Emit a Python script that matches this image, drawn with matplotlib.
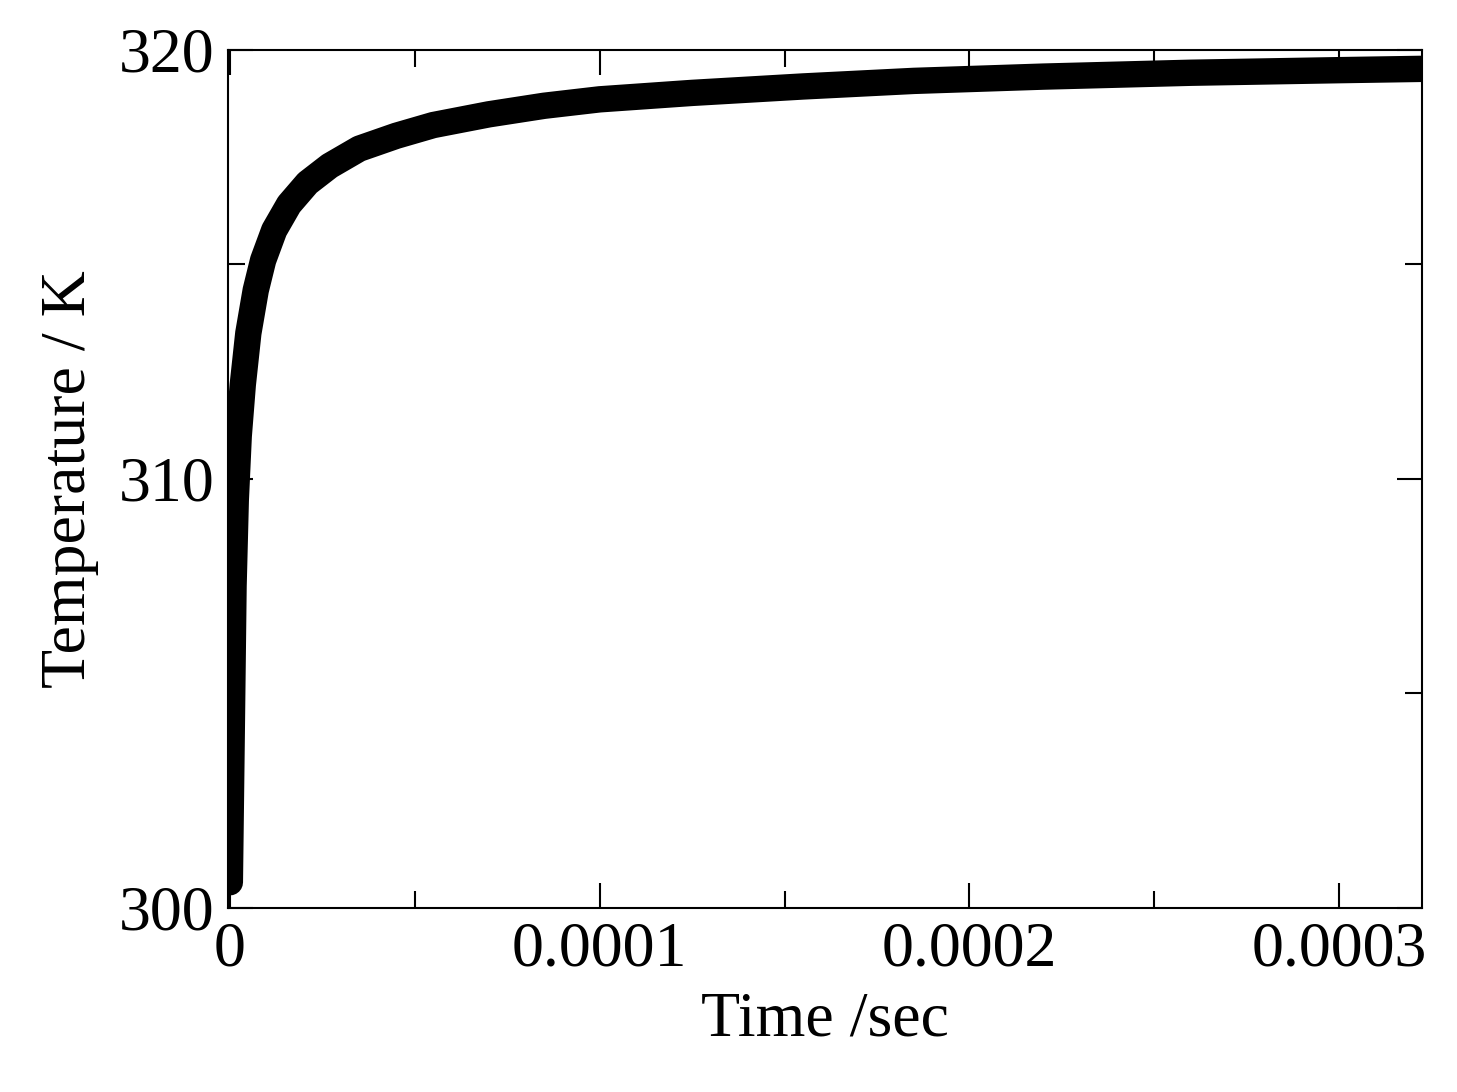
import matplotlib
matplotlib.use("Agg")
import matplotlib.pyplot as plt
from matplotlib.ticker import MultipleLocator, FixedLocator

time_s = [0, 0.5e-6, 1e-6, 1.6e-6, 2.4e-6, 3.5e-6, 5e-6, 7e-6, 9e-6, 1.2e-5, 1.6e-5,
          2.1e-5, 2.7e-5, 3.5e-5, 4.5e-5, 5.5e-5, 7e-5, 8.5e-5, 1.0e-4, 1.25e-4,
          1.55e-4, 1.85e-4, 2.2e-4, 2.6e-4, 3.0e-4, 3.22e-4]
temp_K = [300.6, 304.0, 307.5, 309.5, 311.0, 312.2, 313.4, 314.4, 315.1, 315.8, 316.4,
          316.9, 317.3, 317.7, 318.0, 318.25, 318.5, 318.7, 318.85, 319.0,
          319.15, 319.28, 319.38, 319.47, 319.53, 319.56]

plt.rcParams['font.family'] = ['Liberation Serif', 'DejaVu Serif']
fig = plt.figure(figsize=(14.57, 10.92), dpi=100)
ax = fig.add_axes([228/1457, 1-908/1092, (1422-228)/1457, (908-50)/1092])
ax.plot(time_s, temp_K, color='black', lw=19, solid_capstyle='round', solid_joinstyle='round')
ax.set_xlim(-0.0000005, 0.0003224)
ax.set_ylim(300, 320)
ax.xaxis.set_major_locator(FixedLocator([0, 0.0001, 0.0002, 0.0003]))
ax.xaxis.set_minor_locator(FixedLocator([0.00005, 0.00015, 0.00025]))
ax.set_xticklabels(['0', '0.0001', '0.0002', '0.0003'])
ax.yaxis.set_major_locator(MultipleLocator(10))
ax.yaxis.set_minor_locator(MultipleLocator(5))
ax.tick_params(which='both', direction='in', top=True, right=True, labelsize=46, width=1.5)
ax.tick_params(which='major', length=18, pad=10)
ax.tick_params(which='minor', length=12)
for s in ax.spines.values():
    s.set_linewidth(1.5)
ax.set_xlabel('Time /sec', fontsize=46, labelpad=8)
ax.set_ylabel('Temperature / K', fontsize=46, labelpad=14)
fig.savefig('out.png', dpi=100)
